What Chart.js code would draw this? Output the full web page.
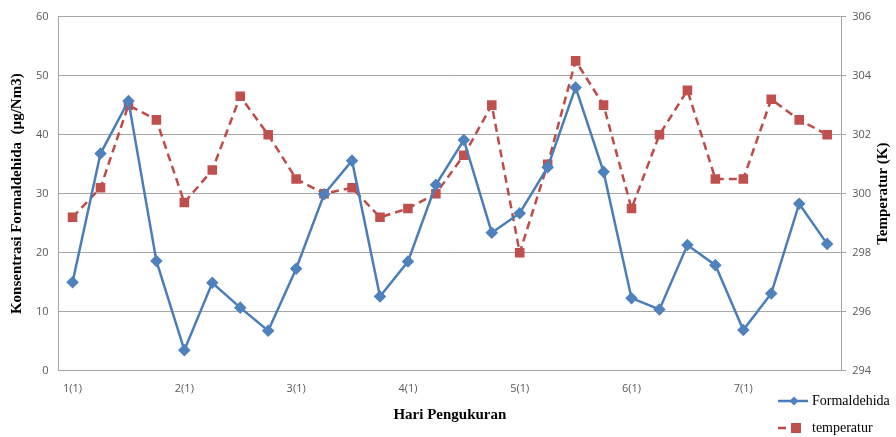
<!DOCTYPE html>
<html>
<head>
<meta charset="utf-8">
<script src="https://cdn.jsdelivr.net/npm/chart.js@4"></script>
<style>
  html, body { margin: 0; padding: 0; background: #fff; }
  #wrap { width: 896px; height: 437px; }
</style>
</head>
<body>
<div id="wrap"><canvas id="formChart" width="896" height="437"></canvas></div>
<script>
// Hari pengukuran: 7 hari, 4 pengukuran per hari
const labels = [
    "1(1)", "1(2)", "1(3)", "1(4)", "2(1)", "2(2)", "2(3)", "2(4)",
    "3(1)", "3(2)", "3(3)", "3(4)", "4(1)", "4(2)", "4(3)", "4(4)",
    "5(1)", "5(2)", "5(3)", "5(4)", "6(1)", "6(2)", "6(3)", "6(4)",
    "7(1)", "7(2)", "7(3)", "7(4)"
];
const formaldehida = [15, 36.8, 45.7, 18.6, 3.5, 14.9, 10.7, 6.8, 17.3, 29.9, 35.6, 12.6, 18.5, 31.5,
    39.1, 23.4, 26.7, 34.5, 48, 33.7, 12.3, 10.4, 21.3, 17.9, 6.9, 13.1, 28.3, 21.5];
const temperatur = [299.2, 300.2, 303.0, 302.5, 299.7, 300.8, 303.3, 302.0, 300.5, 300.0, 300.2, 299.2, 299.5, 300.0,
    301.3, 303.0, 298.0, 301.0, 304.5, 303.0, 299.5, 302.0, 303.5, 300.5, 300.5, 303.2, 302.5, 302.0];

const blue = '#4a7ebb';
const red = '#be4b48';
const gridGray = '#a6a6a6';
const tickFont = { family: 'Open Sans, Liberation Sans, sans-serif', size: 11 };
const titleFont = { family: 'Liberation Serif, DejaVu Serif, serif', size: 15, weight: 'bold' };

// right axis title (reads bottom to top) and the legend in the bottom corner
const extras = {
    id: 'extras',
    afterDraw(chart) {
        const ctx = chart.ctx;
        const area = chart.chartArea;
        ctx.save();
        ctx.fillStyle = '#000';
        ctx.font = 'bold 15px "Liberation Serif", serif';
        ctx.textAlign = 'center';
        ctx.textBaseline = 'middle';
        ctx.translate(883, (area.top + area.bottom) / 2);
        ctx.rotate(-Math.PI / 2);
        ctx.fillText('Temperatur (K)', 0, 0);
        ctx.restore();

        const items = chart.data.datasets;
        const rows = [401, 428];
        ctx.save();
        items.forEach(function(ds, i) {
            const y = rows[i];
            ctx.strokeStyle = ds.borderColor;
            ctx.lineWidth = 2.5;
            ctx.setLineDash(ds.borderDash || []);
            ctx.beginPath();
            ctx.moveTo(778, y);
            ctx.lineTo(i === 0 ? 808 : 804, y);
            ctx.stroke();
            ctx.setLineDash([]);
            ctx.fillStyle = ds.pointBackgroundColor;
            ctx.beginPath();
            if (i === 0) {
                ctx.moveTo(794, y - 4.5); ctx.lineTo(798.5, y); ctx.lineTo(794, y + 4.5); ctx.lineTo(789.5, y);
            } else {
                ctx.rect(791, y - 5, 10, 10);
            }
            ctx.closePath();
            ctx.fill();
            ctx.fillStyle = '#000';
            ctx.font = '14px "Liberation Serif", serif';
            ctx.textAlign = 'left';
            ctx.textBaseline = 'middle';
            ctx.fillText(ds.label, 812, y);
        });
        ctx.restore();
    }
};

const ctx = document.getElementById('formChart').getContext('2d');
const formChart = new Chart(ctx, {
    type: 'line',
    data: {
        labels: labels,
        datasets: [
            {
                label: 'Formaldehida',
                data: formaldehida,
                yAxisID: 'y',
                borderColor: blue,
                backgroundColor: blue,
                pointBackgroundColor: '#4f81bd',
                pointBorderColor: '#4f81bd',
                pointStyle: 'rectRot',
                pointRadius: 4.5,
                borderWidth: 2.5,
                tension: 0,
                fill: false
            },
            {
                label: 'temperatur',
                data: temperatur,
                yAxisID: 'y2',
                borderColor: red,
                backgroundColor: red,
                pointBackgroundColor: '#c0504d',
                pointBorderColor: '#c0504d',
                pointStyle: 'rect',
                pointRadius: 5,
                borderWidth: 2.5,
                borderDash: [8, 5],
                tension: 0,
                fill: false
            }
        ]
    },
    options: {
        responsive: false,
        animation: false,
        layout: { padding: { left: 7, right: 19, top: 12, bottom: 9 } },
        plugins: {
            legend: { display: false },
            tooltip: { enabled: false }
        },
        scales: {
            x: {
                offset: true,
                grid: { display: false, drawTicks: false },
                border: { display: true, color: gridGray, width: 1 },
                ticks: {
                    autoSkip: false,
                    maxRotation: 0,
                    padding: 11,
                    color: '#595959',
                    font: tickFont,
                    callback: function(value, index) {
                        return index % 4 === 0 ? this.getLabelForValue(value) : '';
                    }
                },
                title: {
                    display: true,
                    text: 'Hari Pengukuran',
                    color: '#000',
                    font: titleFont,
                    padding: { top: 0, bottom: 4 }
                }
            },
            y: {
                position: 'left',
                min: 0,
                max: 60,
                grid: { color: gridGray, lineWidth: 1, drawTicks: false },
                border: { display: true, color: gridGray },
                ticks: { stepSize: 10, padding: 10, color: '#595959', font: tickFont },
                title: {
                    display: true,
                    text: 'Konsentrasi Formaldehida  (µg/Nm3)',
                    color: '#000',
                    font: titleFont,
                    padding: { top: 1, bottom: 0 }
                }
            },
            y2: {
                position: 'right',
                min: 294,
                max: 306,
                grid: { drawOnChartArea: false, color: gridGray, tickLength: 5 },
                border: { display: true, color: gridGray },
                ticks: { stepSize: 2, padding: 6, color: '#595959', font: tickFont }
            }
        }
    },
    plugins: [extras]
});
</script>
</body>
</html>
